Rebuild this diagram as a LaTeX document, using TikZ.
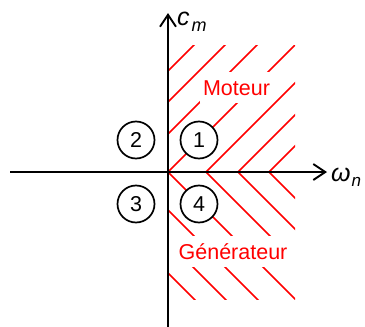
\documentclass[tikz,border=0pt]{standalone}
\usepackage{fontspec}
\setmainfont{Liberation Sans}
\usepackage{tikz}
\usetikzlibrary{arrows.meta}

\begin{document}
\begin{tikzpicture}[x=1pt,y=-1pt,font=\fontsize{21.5}{24}\selectfont,
  >={Straight Barb[length=12pt,width=16pt]},
  axis/.style={->,line width=1.9pt,black},
  hatch/.style={line width=1.6pt,red},
  quad/.style={draw,circle,line width=1.7pt,fill=white,minimum size=37pt,inner sep=0pt},
  zone/.style={text=red,fill=white,inner xsep=3pt,inner ysep=7.5pt,
               text height=15.5pt,text depth=0pt,anchor=base},
  lab/.style={anchor=base west,inner sep=0pt,font=\fontsize{25}{27}\selectfont}]
\useasboundingbox (0,0) rectangle (365,327);
\coordinate (O)    at (168,172);
\coordinate (wmin) at (10,172);
\coordinate (wmax) at (327,172);
\coordinate (cmin) at (168,327);
\coordinate (cmax) at (168,13);
\begin{scope}
  \clip (168,45) rectangle (295,299);
  \foreach \a in {-101,-70,-38,0,38,70,101}
    \draw[hatch] ({308+\a},32) -- ({168+\a},172) -- ({308+\a},312);
\end{scope}
\draw[axis] (wmin) -- (wmax);
\draw[axis] (cmin) -- (cmax);
\foreach \n/\x/\y in {1/199/140, 2/136/140, 3/136/204, 4/199/204}
  \node[quad] (q\n) at (\x,\y) {\n};
\node[zone] (mot) at (236.5,95) {Moteur};
\node[zone,inner xsep=10pt] (gen) at (233,259) {Générateur};
\node[lab] (cm) at (177,25)
  {\textit{c}\kern2pt\raisebox{-6pt}{\fontsize{18}{18}\selectfont\textit{m}}};
\node[lab] (wn) at (331,181.5)
  {\textit{ω}\kern1pt\raisebox{-5pt}{\fontsize{17}{17}\selectfont\textit{n}}};
\end{tikzpicture}
\end{document}
